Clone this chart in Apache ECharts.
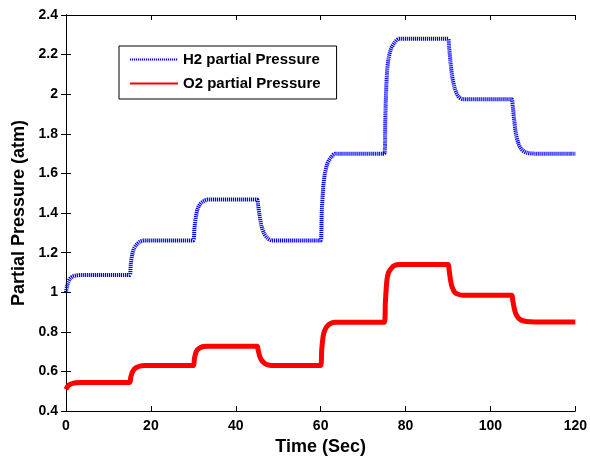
<!DOCTYPE html>
<html>
<head>
<meta charset="utf-8">
<script src="https://cdn.jsdelivr.net/npm/echarts@6/dist/echarts.min.js"></script>
<style>html,body{margin:0;padding:0;background:#fff;}#c{width:590px;height:461px;}</style>
</head>
<body>
<div id="c"></div>
<script>
var timeSec = [
  0, 0.25, 0.6, 1.0, 1.6, 2.4, 3.5,
  15, 15.25, 15.6, 16.0, 16.6, 17.4, 18.5,
  30, 30.25, 30.6, 31.0, 31.6, 32.4, 33.5,
  45, 45.25, 45.6, 46.0, 46.6, 47.4, 48.5,
  60, 60.25, 60.6, 61.0, 61.6, 62.4, 63.5,
  75, 75.25, 75.6, 76.0, 76.6, 77.4, 78.5,
  90, 90.25, 90.6, 91.0, 91.6, 92.4, 93.5,
  105, 105.25, 105.6, 106.0, 106.6, 107.4, 108.5, 110.5, 120
];
var h2Pressure = [
  1.00, 1.03, 1.055, 1.07, 1.08, 1.085, 1.087,
  1.087, 1.14, 1.19, 1.22, 1.24, 1.255, 1.262,
  1.262, 1.32, 1.38, 1.42, 1.445, 1.46, 1.468,
  1.468, 1.44, 1.39, 1.34, 1.30, 1.275, 1.262,
  1.262, 1.40, 1.53, 1.60, 1.65, 1.68, 1.70,
  1.70, 1.90, 2.10, 2.18, 2.23, 2.26, 2.28,
  2.28, 2.24, 2.16, 2.09, 2.03, 1.99, 1.975,
  1.975, 1.94, 1.87, 1.80, 1.75, 1.72, 1.705, 1.70, 1.70
];
var o2Pressure = [
  0.51, 0.52, 0.53, 0.535, 0.54, 0.543, 0.545,
  0.545, 0.57, 0.595, 0.61, 0.62, 0.627, 0.63,
  0.63, 0.665, 0.695, 0.71, 0.72, 0.726, 0.728,
  0.728, 0.71, 0.68, 0.66, 0.645, 0.635, 0.63,
  0.63, 0.71, 0.78, 0.81, 0.83, 0.843, 0.848,
  0.848, 0.95, 1.06, 1.10, 1.12, 1.135, 1.14,
  1.14, 1.115, 1.06, 1.025, 1.0, 0.99, 0.985,
  0.985, 0.96, 0.92, 0.89, 0.87, 0.858, 0.852, 0.85, 0.85
];
var seriesNames = ['H2 partial Pressure', 'O2 partial Pressure'];
var xTicks = [0, 20, 40, 60, 80, 100, 120];
var yTicks = [0.4, 0.6, 0.8, 1, 1.2, 1.4, 1.6, 1.8, 2, 2.2, 2.4];

function pairs(t, v) { return t.map(function (x, i) { return [x, v[i]]; }); }

var font = 'Liberation Sans, Arial, sans-serif';
var chart = echarts.init(document.getElementById('c'), null, { renderer: 'canvas' });
var axisCommon = {
  axisLine: { show: true, lineStyle: { color: '#000', width: 1 } },
  axisTick: { show: true, inside: true, length: 5, lineStyle: { color: '#000' } },
  splitLine: { show: false }
};
chart.setOption({
  animation: false,
  backgroundColor: '#fff',
  grid: { left: 66, right: 13, top: 15, bottom: 48, containLabel: false },
  legend: {
    orient: 'vertical', left: 119, top: 46,
    padding: [6, 16, 8, 10], itemGap: 9, itemWidth: 48, itemHeight: 14,
    borderColor: '#000', borderWidth: 1, backgroundColor: '#fff',
    itemStyle: { opacity: 0 },
    textStyle: { fontFamily: font, fontWeight: 'bold', fontSize: 15, color: '#000' },
    data: seriesNames
  },
  xAxis: [
    Object.assign({
      type: 'value', min: xTicks[0], max: xTicks[xTicks.length - 1], interval: 20,
      position: 'bottom',
      name: 'Time (Sec)', nameLocation: 'middle', nameGap: 24,
      nameTextStyle: { fontFamily: font, fontWeight: 'bold', fontSize: 18, color: '#000' },
      axisLabel: { fontFamily: font, fontWeight: 'bold', fontSize: 14, color: '#000', margin: 8 }
    }, axisCommon),
    Object.assign({
      type: 'value', min: xTicks[0], max: xTicks[xTicks.length - 1], interval: 20,
      position: 'top', axisLabel: { show: false }
    }, axisCommon)
  ],
  yAxis: [
    Object.assign({
      type: 'value', min: yTicks[0], max: yTicks[yTicks.length - 1], interval: 0.2,
      position: 'left',
      name: 'Partial Pressure (atm)', nameLocation: 'middle', nameGap: 36,
      nameTextStyle: { fontFamily: font, fontWeight: 'bold', fontSize: 18, color: '#000' },
      axisLabel: { fontFamily: font, fontWeight: 'bold', fontSize: 14, color: '#000', margin: 8,
        formatter: function (v) { return String(Math.round(v * 10) / 10); } }
    }, axisCommon),
    Object.assign({
      type: 'value', min: yTicks[0], max: yTicks[yTicks.length - 1], interval: 0.2,
      position: 'right', axisLabel: { show: false }
    }, axisCommon)
  ],
  series: [
    {
      name: seriesNames[0], type: 'line', xAxisIndex: 0, yAxisIndex: 0,
      data: pairs(timeSec, h2Pressure), symbol: 'none', smooth: 0.3,
      lineStyle: { color: '#0000ff', width: 4, type: [1.2, 0.8] },
      itemStyle: { color: '#0000ff' }
    },
    {
      name: seriesNames[1], type: 'line', xAxisIndex: 0, yAxisIndex: 0,
      data: pairs(timeSec, o2Pressure), symbol: 'none', smooth: 0.3,
      lineStyle: { color: '#ff0000', width: 5 },
      itemStyle: { color: '#ff0000' }
    }
  ]
});
</script>
</body>
</html>
